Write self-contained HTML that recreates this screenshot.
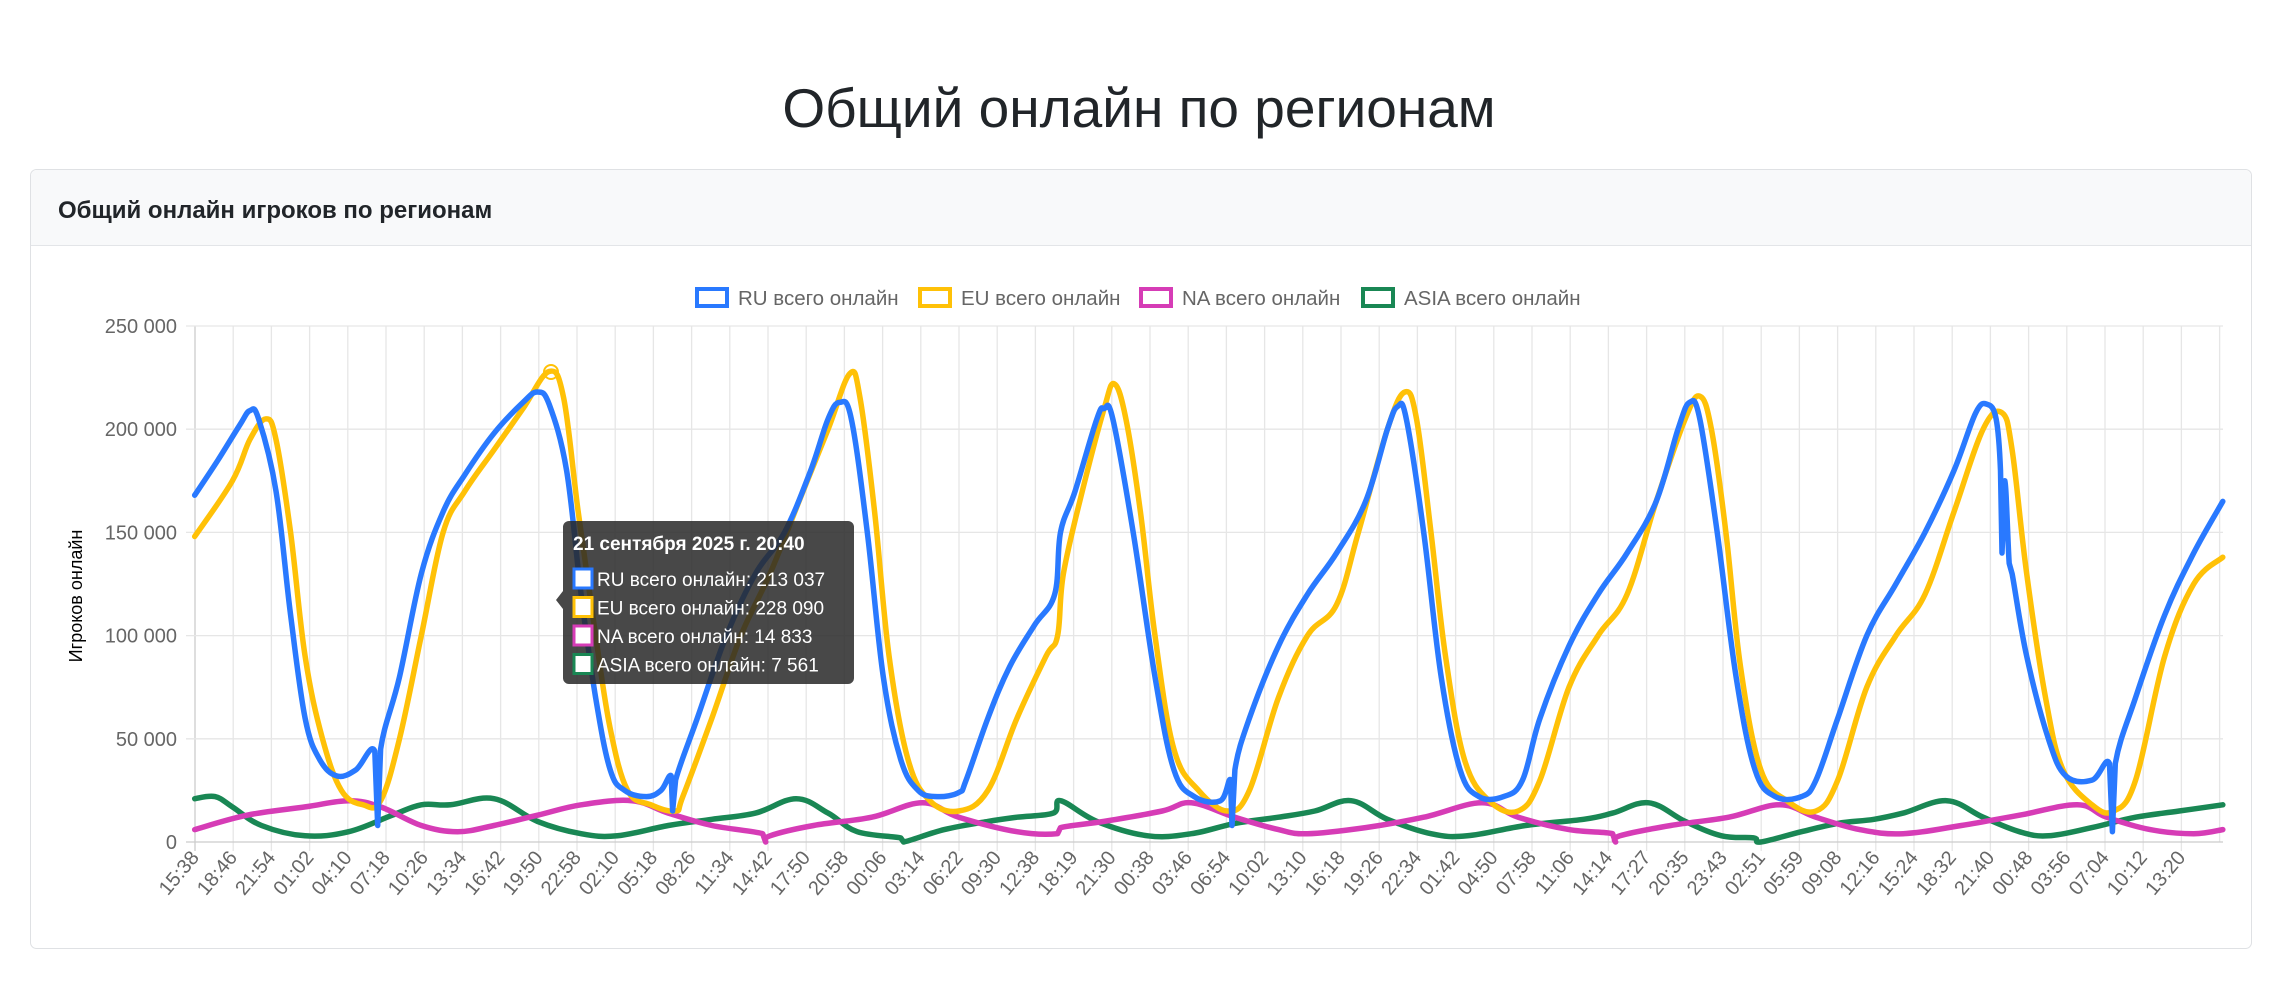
<!DOCTYPE html>
<html><head><meta charset="utf-8">
<style>
body{margin:0;width:2278px;height:981px;background:#fff;overflow:hidden;font-family:"Liberation Sans",sans-serif;}
</style></head><body>
<svg id="s" width="2278" height="981" xmlns="http://www.w3.org/2000/svg" style="position:absolute;left:0;top:0">
<text x="1139" y="127" text-anchor="middle" font-family="Liberation Sans, sans-serif" font-size="55" fill="#212529">Общий онлайн по регионам</text>
<rect x="30.5" y="169.5" width="2221" height="779" rx="6" fill="#fff" stroke="#dfe1e4"/>
<path d="M31 245 V176 a6 6 0 0 1 6 -6 H2245 a6 6 0 0 1 6 6 V245 Z" fill="#f8f9fa"/>
<line x1="31" y1="245.5" x2="2251" y2="245.5" stroke="#e3e5e8"/>
<text x="58" y="218" font-family="Liberation Sans, sans-serif" font-size="24" font-weight="bold" fill="#212529">Общий онлайн игроков по регионам</text>
<g id="grid"></g>
<g id="lines" fill="none" stroke-width="5.5" stroke-linejoin="round" stroke-linecap="round"></g>
<g id="legend" font-family="Liberation Sans, sans-serif" font-size="20.5" fill="#666"></g>
<text transform="translate(82,596) rotate(-90)" text-anchor="middle" font-family="Liberation Sans, sans-serif" font-size="18" fill="#000">Игроков онлайн</text>
<circle cx="551" cy="372" r="7" fill="none" stroke="#ffc107" stroke-width="2"/>
<g>
<path d="M569 521 H848 a6 6 0 0 1 6 6 V678 a6 6 0 0 1 -6 6 H569 a6 6 0 0 1 -6 -6 V609 L556 600 L563 591 V527 a6 6 0 0 1 6 -6 Z" fill="rgba(40,40,40,0.85)"/>
<text x="573" y="550" font-family="Liberation Sans, sans-serif" font-size="19" font-weight="bold" fill="#fff">21 сентября 2025 г. 20:40</text>
<g font-family="Liberation Sans, sans-serif" font-size="19" fill="#fff" id="tt"></g>
</g>
</svg>
<script>
var NS="http://www.w3.org/2000/svg";
function el(p,t,a,txt){var e=document.createElementNS(NS,t);for(var k in a)e.setAttribute(k,a[k]);if(txt!=null)e.textContent=txt;p.appendChild(e);return e;}
var X0=195,Y0=842,PX=516/250000,SC=1.4528;
function Y(v){return Y0-v*PX;}
var g=document.getElementById('grid');
var labels="15:38 18:46 21:54 01:02 04:10 07:18 10:26 13:34 16:42 19:50 22:58 02:10 05:18 08:26 11:34 14:42 17:50 20:58 00:06 03:14 06:22 09:30 12:38 18:19 21:30 00:38 03:46 06:54 10:02 13:10 16:18 19:26 22:34 01:42 04:50 07:58 11:06 14:14 17:27 20:35 23:43 02:51 05:59 09:08 12:16 15:24 18:32 21:40 00:48 03:56 07:04 10:12 13:20".split(" ");
var step=38.2;
for(var i=0;i<=53;i++){var x=X0+i*step;if(x>2224)x=2223;
 el(g,'line',{x1:x,y1:326,x2:x,y2:Y0+(i<53?9:0),stroke:i==0?'#ccc':'#e6e6e6','stroke-width':1.3});
 if(i<53){el(g,'text',{transform:'translate('+(x+5)+','+(Y0+16)+') rotate(-50)','text-anchor':'end','font-family':'Liberation Sans, sans-serif','font-size':20,fill:'#666'},labels[i]);}
}
var yl=["0","50 000","100 000","150 000","200 000","250 000"];
for(var j=0;j<=5;j++){var y=Y(j*50000);
 el(g,'line',{x1:X0-9,y1:y,x2:2223,y2:y,stroke:j==0?'#ccc':'#e6e6e6','stroke-width':1.3});
 el(g,'text',{x:177,y:y+7,'text-anchor':'end','font-family':'Liberation Sans, sans-serif','font-size':20,fill:'#666'},yl[j]);}
function P(arr){var pts=[];for(var i=0;i<arr.length;i+=2)pts.push([arr[i]*SC,Y(arr[i+1]*1000)]);
 var d="M"+pts[0][0].toFixed(1)+" "+pts[0][1].toFixed(1);var t=0.18;
 for(var i=0;i<pts.length-1;i++){var p0=pts[Math.max(0,i-1)],p1=pts[i],p2=pts[i+1],p3=pts[Math.min(pts.length-1,i+2)];
  var c1x=p1[0]+(p2[0]-p0[0])*t,c1y=p1[1]+(p2[1]-p0[1])*t,c2x=p2[0]-(p3[0]-p1[0])*t,c2y=p2[1]-(p3[1]-p1[1])*t;
  if(Math.abs(p2[0]-p1[0])<4){d+="L"+p2[0].toFixed(1)+" "+p2[1].toFixed(1);continue;}
  d+="C"+c1x.toFixed(1)+" "+c1y.toFixed(1)+" "+c2x.toFixed(1)+" "+c2y.toFixed(1)+" "+p2[0].toFixed(1)+" "+p2[1].toFixed(1);}
 return d;}
var RU=[134,168,150,185,165,202,172,209,178,205,190,170,200,110,210,60,220,40,232,32,245,35,258,44,260,8,262,45,275,80,290,130,305,160,320,178,340,198,360,213,370,218,378,212,390,180,400,120,410,70,420,35,430,25,445,22,455,25,462,32,463,15,465,30,480,60,500,100,520,130,540,150,558,180,570,205,578,213,586,205,597,150,608,80,620,40,632,25,645,22,660,24,665,30,680,60,695,85,712,105,726,120,730,150,740,170,755,205,760,210,766,205,780,150,795,80,808,35,822,22,840,20,847,30,848,8,850,35,860,60,880,95,900,120,920,140,940,165,955,200,962,211,968,205,980,150,992,80,1005,35,1018,22,1035,22,1048,30,1060,60,1080,95,1100,120,1120,140,1140,165,1155,200,1163,213,1170,205,1182,150,1195,80,1208,35,1222,22,1240,22,1250,30,1265,60,1285,100,1305,125,1325,150,1345,180,1360,208,1368,212,1374,205,1377,180,1378,140,1380,175,1383,135,1385,130,1395,90,1410,50,1422,32,1440,30,1452,38,1454,5,1456,38,1470,70,1490,110,1510,140,1530,165];
var EU=[134,148,160,175,172,195,183,205,190,195,200,150,210,90,222,50,235,25,250,18,262,20,275,50,290,100,305,150,320,170,340,190,360,210,378,228,388,215,398,160,410,100,420,55,432,25,448,18,465,15,470,22,490,60,510,100,530,130,550,165,570,200,585,227,592,215,602,160,612,90,625,40,640,20,660,15,680,25,700,60,720,90,728,100,732,130,745,170,760,210,767,222,775,205,785,160,795,100,808,45,825,25,845,15,860,25,880,70,900,100,920,115,935,150,955,200,967,218,975,205,985,150,995,90,1008,40,1025,20,1045,15,1060,30,1080,75,1100,100,1120,120,1140,165,1160,205,1170,216,1178,200,1188,150,1198,85,1212,35,1230,20,1250,15,1265,30,1285,75,1305,100,1325,120,1345,160,1365,200,1378,208,1385,190,1395,130,1408,70,1420,35,1440,18,1455,15,1470,30,1490,90,1510,125,1530,138];
var NA=[134,6,170,13,210,17,240,20,262,17,290,8,315,5,340,8,370,13,400,18,435,20,460,14,490,8,525,4,527,0,530,3,560,8,600,12,635,19,660,12,700,5,728,4,730,7,760,10,800,15,820,19,850,12,880,6,900,4,940,7,980,12,1020,19,1045,12,1080,6,1110,4,1112,0,1115,3,1150,8,1190,12,1225,18,1250,12,1280,6,1310,4,1350,8,1390,13,1430,18,1450,12,1480,6,1510,4,1530,6];
var AS=[134,21,148,22,160,17,180,8,210,3,240,5,270,13,290,18,310,18,340,21,370,10,400,4,425,3,460,8,490,11,520,14,548,21,570,14,590,5,620,2,622,0,650,6,680,10,700,12,725,14,730,20,755,10,790,3,820,4,850,9,880,12,905,15,930,20,955,11,985,4,1010,3,1050,8,1090,11,1110,14,1135,19,1160,10,1185,3,1207,2,1212,0,1240,5,1265,9,1290,11,1310,14,1340,20,1365,12,1390,5,1410,3,1440,7,1470,12,1500,15,1530,18];
var L=document.getElementById('lines');
[[AS,'#198754'],[NA,'#d63cb6'],[EU,'#ffc107'],[RU,'#2979ff']].forEach(function(s){el(L,'path',{d:P(s[0]),stroke:s[1]});});
var lg=document.getElementById('legend');
var items=[["RU всего онлайн",'#2979ff',695],["EU всего онлайн",'#ffc107',918],["NA всего онлайн",'#d63cb6',1139],["ASIA всего онлайн",'#198754',1361]];
items.forEach(function(it){el(lg,'rect',{x:it[2]+2,y:289,width:30,height:17,fill:'#fff',stroke:it[1],'stroke-width':4});el(lg,'text',{x:it[2]+43,y:305},it[0]);});
var tt=document.getElementById('tt');
var rows=[["RU всего онлайн: 213 037",'#2979ff'],["EU всего онлайн: 228 090",'#ffc107'],["NA всего онлайн: 14 833",'#d63cb6'],["ASIA всего онлайн: 7 561",'#198754']];
rows.forEach(function(r,i){var cy=579+i*28.5;el(tt,'rect',{x:574,y:cy-10,width:18,height:19,fill:'#fff',stroke:r[1],'stroke-width':3});el(tt,'text',{x:597,y:cy+7},r[0]);});
</script>
</body></html>
